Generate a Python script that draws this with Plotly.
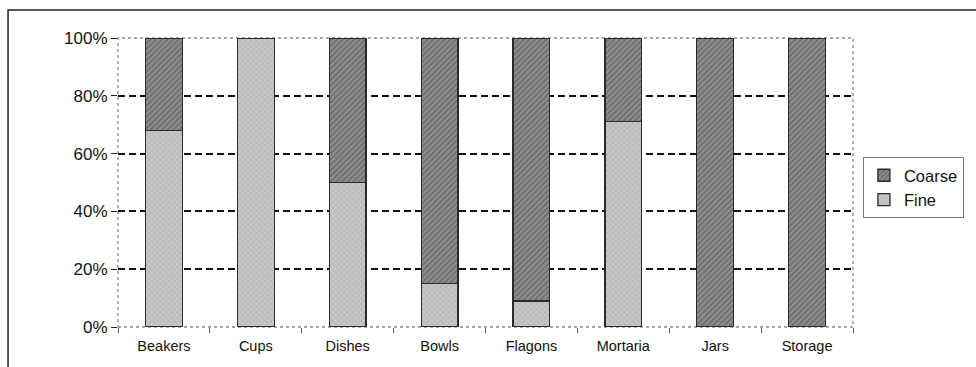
import plotly.graph_objects as go

categories = ["Beakers", "Cups", "Dishes", "Bowls", "Flagons", "Mortaria", "Jars", "Storage"]
fine = [0.68, 1.00, 0.50, 0.15, 0.09, 0.71, 0.0, 0.0]
coarse = [0.32, 0.0, 0.50, 0.85, 0.91, 0.29, 1.0, 1.0]

W, H = 976, 367
L, R, T, B = 118, 116, 38, 40
pw, ph = W - L - R, H - T - B

fig = go.Figure()
fig.add_trace(go.Bar(
    x=categories, y=fine, name="Fine",
    marker=dict(color="#bdbdbd", line=dict(color="#2a2a2a", width=1.3),
                pattern=dict(shape="x", bgcolor="#c6c6c6", fgcolor="#959595", size=4, solidity=0.3)),
))
fig.add_trace(go.Bar(
    x=categories, y=coarse, name="Coarse",
    marker=dict(color="#808080", line=dict(color="#2a2a2a", width=1.3),
                pattern=dict(shape="/", bgcolor="#8e8e8e", fgcolor="#474747", size=4, solidity=0.4)),
))

# outer frame of the chart area
fig.add_shape(type="rect", xref="paper", yref="paper",
              x0=(7 - L) / pw, x1=(W + 20 - L) / pw,
              y0=-(B + 20) / ph, y1=1 + (T - 10) / ph,
              line=dict(color="#222222", width=1.5), layer="below")
# plot area outline (grey dotted)
fig.add_shape(type="rect", xref="paper", yref="paper", x0=0, x1=1, y0=0, y1=1,
              line=dict(color="#8a8a8a", width=1.3, dash="dot"), layer="below")

fig.update_layout(
    width=W, height=H,
    margin=dict(l=L, r=R, t=T, b=B),
    barmode="stack", bargap=0.6,
    paper_bgcolor="white", plot_bgcolor="white",
    font=dict(family="Liberation Sans, Arial, sans-serif", color="#111111", size=14),
    showlegend=True,
    legend=dict(x=(870 - L) / pw, y=1 - (157 - T) / ph, xanchor="left", yanchor="top",
                traceorder="reversed", bordercolor="#777777", borderwidth=1,
                font=dict(size=16.5), itemwidth=30, tracegroupgap=0,
                bgcolor="white"),
    xaxis=dict(showgrid=False, ticks="outside", tickson="boundaries", ticklen=5,
               tickcolor="#555555", tickfont=dict(size=14.5), ticklabelstandoff=8,
               showline=False, zeroline=False),
    yaxis=dict(range=[0, 1], dtick=0.2, tickformat=".0%", ticks="outside", ticklen=6,
               tickcolor="#222222", tickfont=dict(size=17), showgrid=True,
               gridcolor="#111111", griddash="7px,4px", gridwidth=1.8,
               zeroline=False, showline=False),
)

fig.write_html("out.html", config={"displayModeBar": False},
               post_script="document.body.style.margin='0';")
